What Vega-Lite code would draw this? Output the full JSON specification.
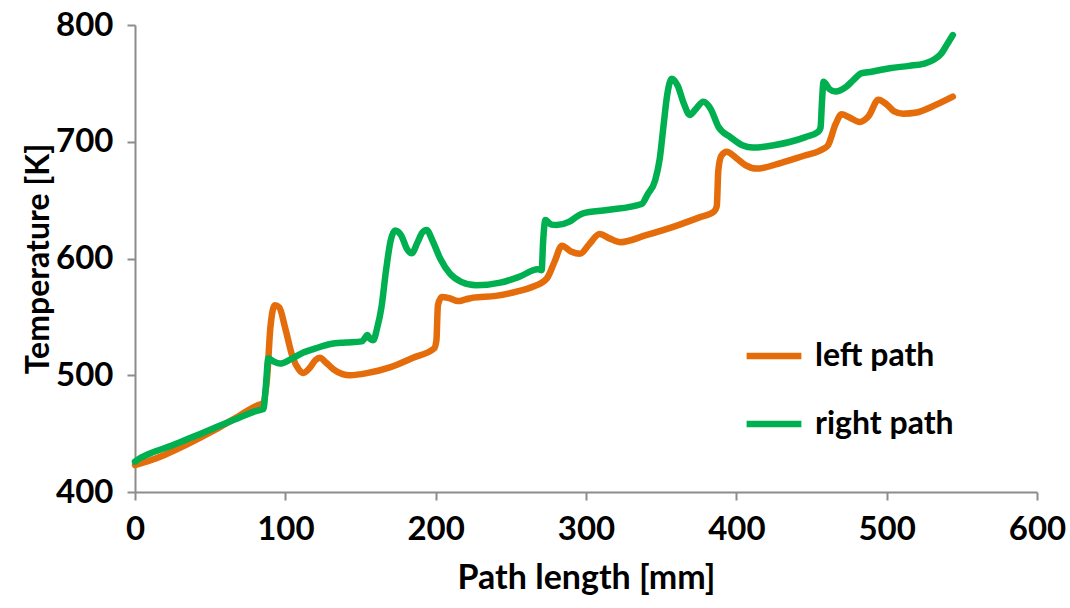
{
  "$schema": "https://vega.github.io/schema/vega-lite/v6.json",
  "width": 902,
  "height": 467,
  "autosize": "none",
  "padding": {"left": 135, "top": 25, "right": 33, "bottom": 116},
  "background": "white",
  "config": {"view": {"stroke": null}, "font": "Lato"},
  "datasets": {
    "left": [
      {"x":0,"y":423},{"x":10,"y":427},{"x":20,"y":432},{"x":35,"y":441},{"x":50,"y":451},{"x":65,"y":462},{"x":82,"y":474.5},{"x":85,"y":476},{"x":88,"y":500},{"x":90,"y":540},{"x":93,"y":560},{"x":96,"y":558},{"x":100,"y":540},{"x":105,"y":515},{"x":109,"y":505},{"x":112,"y":502},{"x":116,"y":506},{"x":120,"y":513},{"x":123,"y":515},{"x":127,"y":511},{"x":132,"y":505},{"x":138,"y":501},{"x":143,"y":500},{"x":155,"y":502},{"x":170,"y":507},{"x":185,"y":515},{"x":199,"y":523},{"x":200.5,"y":530},{"x":201.5,"y":560},{"x":204,"y":567},{"x":209,"y":566},{"x":215,"y":563.5},{"x":220,"y":565},{"x":225,"y":566.5},{"x":240,"y":568},{"x":255,"y":572},{"x":265,"y":576},{"x":274,"y":583},{"x":279,"y":597},{"x":284,"y":611},{"x":290,"y":606},{"x":296,"y":604},{"x":302,"y":612},{"x":309,"y":621},{"x":316,"y":617},{"x":323,"y":614},{"x":340,"y":620},{"x":360,"y":628},{"x":375,"y":635},{"x":385,"y":640},{"x":387,"y":645},{"x":388,"y":675},{"x":390,"y":688},{"x":393.6,"y":691.5},{"x":400,"y":686},{"x":406,"y":680},{"x":413.6,"y":677},{"x":430,"y":682},{"x":445,"y":688},{"x":455,"y":692},{"x":458,"y":694},{"x":461,"y":697},{"x":466,"y":715},{"x":470,"y":723.5},{"x":475,"y":721},{"x":482,"y":717},{"x":488,"y":722},{"x":494.5,"y":736},{"x":500,"y":732},{"x":505,"y":726},{"x":511,"y":724},{"x":520,"y":725},{"x":530,"y":730},{"x":544,"y":738.6}
    ],
    "right": [
      {"x":0,"y":426},{"x":1,"y":427},{"x":10,"y":433},{"x":25,"y":440},{"x":40,"y":448},{"x":55,"y":456},{"x":70,"y":464},{"x":82,"y":470},{"x":85.4,"y":471},{"x":87,"y":490},{"x":88.7,"y":514.5},{"x":92,"y":512},{"x":96.5,"y":510},{"x":104,"y":514},{"x":112,"y":519.5},{"x":120,"y":523},{"x":130,"y":526.8},{"x":140,"y":528},{"x":150.8,"y":529},{"x":153,"y":532},{"x":154.5,"y":534.5},{"x":156.5,"y":531},{"x":158.5,"y":530},{"x":161,"y":540},{"x":164,"y":558.7},{"x":167,"y":590},{"x":170,"y":615},{"x":173,"y":624},{"x":177,"y":620},{"x":181,"y":608},{"x":184,"y":604.4},{"x":188,"y":614},{"x":191,"y":622},{"x":194,"y":624.4},{"x":198,"y":615},{"x":203,"y":600},{"x":209.5,"y":587},{"x":217,"y":580},{"x":227,"y":577},{"x":243,"y":579.3},{"x":255,"y":584},{"x":268,"y":590.7},{"x":270.5,"y":590},{"x":271.5,"y":615},{"x":273,"y":633},{"x":277,"y":629},{"x":280.5,"y":628.7},{"x":289,"y":631.5},{"x":294,"y":636},{"x":298,"y":638.7},{"x":314,"y":641.5},{"x":337,"y":646.7},{"x":341,"y":655},{"x":346,"y":667},{"x":349,"y":685},{"x":351.5,"y":713},{"x":354,"y":740},{"x":357,"y":754},{"x":361,"y":748},{"x":365,"y":733},{"x":369,"y":723},{"x":373,"y":728},{"x":378,"y":734.3},{"x":383,"y":728},{"x":388,"y":713},{"x":396,"y":704},{"x":404,"y":697},{"x":411,"y":695},{"x":425,"y":697},{"x":436,"y":700},{"x":446,"y":704},{"x":454.5,"y":708.6},{"x":456,"y":712},{"x":457,"y":735},{"x":458,"y":751.4},{"x":462,"y":745},{"x":466,"y":743},{"x":473,"y":747},{"x":478,"y":753},{"x":483,"y":758.6},{"x":490,"y":760},{"x":502,"y":763},{"x":515,"y":765},{"x":525,"y":767},{"x":531,"y":770},{"x":536,"y":775},{"x":540,"y":783},{"x":544,"y":791.4}
    ]
  },
  "layer": [
    {
      "data": {"name": "left"},
      "transform": [{"calculate": "'left path'", "as": "series"}],
      "mark": {"type": "line", "interpolate": "monotone", "strokeWidth": 6.5, "strokeCap": "round", "strokeJoin": "round"},
      "encoding": {
        "x": {"field": "x", "type": "quantitative"},
        "y": {"field": "y", "type": "quantitative"},
        "color": {"field": "series", "type": "nominal"}
      }
    },
    {
      "data": {"name": "right"},
      "transform": [{"calculate": "'right path'", "as": "series"}],
      "mark": {"type": "line", "interpolate": "monotone", "strokeWidth": 6.5, "strokeCap": "round", "strokeJoin": "round"},
      "encoding": {
        "x": {"field": "x", "type": "quantitative", "scale": {"domain": [0, 600], "nice": false, "zero": false}, "axis": {"title": "Path length [mm]", "values": [0,100,200,300,400,500,600], "grid": false, "labelFlush": false, "labelOverlap": false, "domainColor": "#8c8c8c", "domainWidth": 2, "tickColor": "#8c8c8c", "tickWidth": 2, "tickSize": 8, "labelFont": "Lato", "labelFontWeight": "bold", "labelFontSize": 33, "labelColor": "#000000", "labelPadding": 13, "titleFont": "Lato", "titleFontWeight": "bold", "titleFontSize": 34, "titleColor": "#000000", "titlePadding": 15}},
        "y": {"field": "y", "type": "quantitative", "scale": {"domain": [400, 800], "nice": false, "zero": false}, "axis": {"title": "Temperature [K]", "values": [400,500,600,700,800], "grid": false, "labelOverlap": false, "domainColor": "#8c8c8c", "domainWidth": 2, "tickColor": "#8c8c8c", "tickWidth": 2, "tickSize": 8, "labelFont": "Lato", "labelFontWeight": "bold", "labelFontSize": 33, "labelColor": "#000000", "labelPadding": 14, "titleFont": "Lato", "titleFontWeight": "bold", "titleFontSize": 32, "titleColor": "#000000", "titlePadding": 0}},
        "color": {"field": "series", "type": "nominal", "scale": {"domain": ["left path", "right path"], "range": ["#E46C0A", "#00B050"]}, "legend": {"orient": "none", "legendX": 608, "legendY": 300, "title": null, "symbolType": "stroke", "symbolStrokeWidth": 6.5, "symbolSize": 3000, "labelFont": "Lato", "labelFontWeight": "bold", "labelFontSize": 32, "labelColor": "#000000", "rowPadding": 21, "labelOffset": 10}}
      }
    }
  ]
}
